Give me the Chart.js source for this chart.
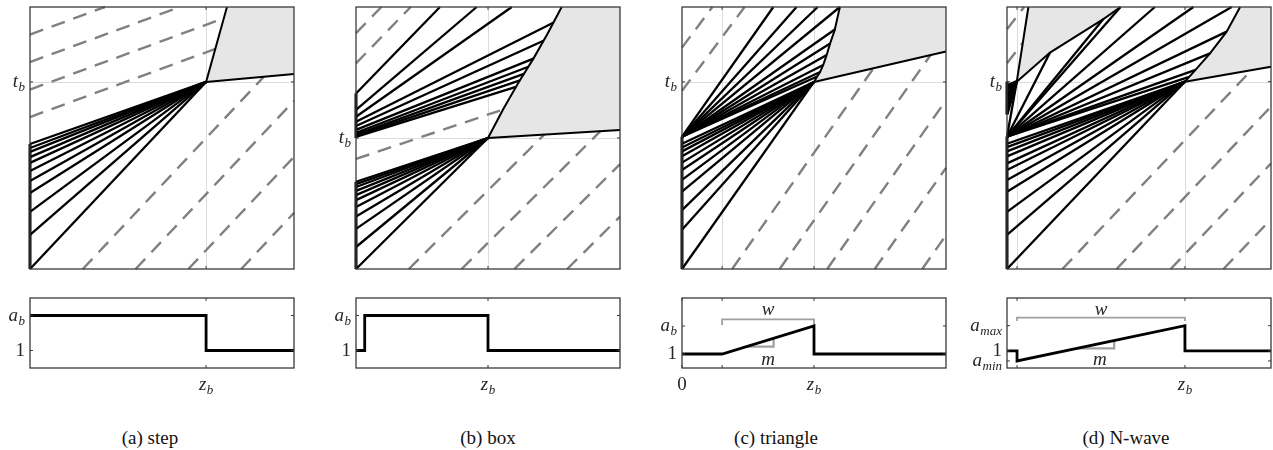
<!DOCTYPE html>
<html>
<head>
<meta charset="utf-8">
<script src="https://cdn.jsdelivr.net/npm/chart.js@4.4.1/dist/chart.umd.min.js"></script>
<style>
  body { margin: 0; background: #fff; width: 1273px; height: 450px; overflow: hidden; position: relative; }
  canvas { position: absolute; }
  .cap { position: absolute; top: 427px; font: 19px "Liberation Serif", serif; color: #111; transform: translateX(-50%); white-space: nowrap; }
</style>
</head>
<body>
<canvas id="topA" width="320" height="280"></canvas>
<canvas id="topB" width="320" height="280"></canvas>
<canvas id="topC" width="320" height="280"></canvas>
<canvas id="topD" width="320" height="280"></canvas>
<canvas id="botA" width="320" height="115"></canvas>
<canvas id="botB" width="320" height="115"></canvas>
<canvas id="botC" width="320" height="115"></canvas>
<canvas id="botD" width="320" height="115"></canvas>
<div class="cap" style="left:150px">(a) step</div>
<div class="cap" style="left:488px">(b) box</div>
<div class="cap" style="left:776px">(c) triangle</div>
<div class="cap" style="left:1126px">(d) N-wave</div>
<script>

// (a) step
const stepFocus = [0.667, 0.714];
const stepFanStarts = [0, 0.13, 0.218, 0.29, 0.336, 0.374, 0.405, 0.427, 0.447, 0.462, 0.477];
const stepWalls = [[[0, 0], [0, 0.477]]];
const stepShocks = [
    [[0.667, 0.714], [0.746, 1]],
    [[0.667, 0.714], [1, 0.744]]
];
const stepShade = [[[0.667, 0.714], [0.746, 1], [1, 1], [1, 0.744]]];
const stepDashed = [
    [[0, 0.58], [0.702, 0.84]], [[0, 0.685], [0.734, 0.957]], [[0, 0.79], [0.568, 1]], [[0, 0.895], [0.284, 1]],
    [[0.2, 0], [0.886, 0.734]], [[0.4, 0], [1, 0.642]], [[0.6, 0], [1, 0.428]], [[0.8, 0], [1, 0.214]]
];

// (b) box
const boxFocus = [0.5, 0.5];
const boxFanStarts = [0, 0.084, 0.153, 0.2, 0.237, 0.263, 0.282, 0.298, 0.313, 0.324, 0.333];
const boxUpperStarts = [0.67, 0.607, 0.581, 0.562, 0.546, 0.531, 0.52, 0.513, 0.508, 0.504];
const boxUpperEnds = [[0.318, 1], [0.457, 1], [0.59, 1], [0.747, 0.94], [0.71, 0.871], [0.672, 0.803], [0.653, 0.772], [0.636, 0.745], [0.621, 0.72], [0.606, 0.695]];
const boxWalls = [[[0, 0], [0, 0.333]], [[0, 0.5], [0, 0.67]]];
const boxCurve = [[0.5, 0.5], [0.558, 0.611], [0.615, 0.711], [0.672, 0.803], [0.726, 0.899], [0.779, 1]];
const boxShocks = [boxCurve, [[0.5, 0.5], [1, 0.531]]];
const boxShade = [boxCurve.concat([[1, 1], [1, 0.531]])];
const boxDashed = [
    [[0, 0.42], [0.555, 0.608]], [[0, 0.785], [0.207, 1]], [[0, 0.9], [0.096, 1]],
    [[0.2, 0], [0.713, 0.513]], [[0.4, 0], [0.926, 0.526]], [[0.6, 0], [1, 0.4]], [[0.8, 0], [1, 0.2]]
];

// (c) triangle
const triFocus = [0.5, 0.714];
const triFanStarts = [0, 0.15, 0.225, 0.295, 0.34, 0.378, 0.406, 0.43, 0.449, 0.464, 0.478];
const triUpperStarts = [0.505];
const triUpperEnds = [[0.346, 1], [0.434, 1], [0.514, 1], [0.598, 1], [0.58, 0.915], [0.561, 0.861], [0.548, 0.817], [0.535, 0.779], [0.523, 0.752], [0.512, 0.735]];
const triWalls = [[[0, 0], [0, 0.505]]];
const triCurve = [[0.5, 0.714], [0.512, 0.735], [0.523, 0.752], [0.535, 0.779], [0.548, 0.817], [0.561, 0.861], [0.578, 0.91], [0.598, 1]];
const triShocks = [triCurve, [[0.5, 0.714], [1, 0.83]]];
const triShade = [triCurve.concat([[1, 1], [1, 0.83]])];
const triDashed = [
    [[0, 0.68], [0.237, 1]], [[0, 0.845], [0.115, 1]],
    [[0.19, 0], [0.726, 0.767]], [[0.37, 0], [0.941, 0.816]], [[0.55, 0], [1, 0.644]], [[0.73, 0], [1, 0.386]], [[0.91, 0], [1, 0.129]]
];

// (d) N-wave
const nFocus = [0.674, 0.715];
const nFanStarts = [0, 0.13, 0.218, 0.295, 0.34, 0.378, 0.403, 0.43, 0.449, 0.465, 0.478];
const nUpperStarts = [0.505];
const nUpperEnds = [[0.037, 0.715], [0.163, 0.826], [0.365, 0.954], [0.43, 1], [0.56, 1], [0.706, 1], [0.851, 1], [0.832, 0.906], [0.769, 0.823], [0.714, 0.76], [0.69, 0.733]];
const nWedgeStarts = [0.59, 0.62, 0.645, 0.665, 0.685, 0.7];
const nWedgeFocus = [0.036, 0.715];
const nWalls = [[[0, 0], [0, 0.505]], [[0, 0.59], [0, 0.715]]];
const nLeftCurve = [[0.037, 0.715], [0.163, 0.826], [0.365, 0.954], [0.43, 1]];
const nRightCurve = [[0.674, 0.715], [0.714, 0.76], [0.769, 0.823], [0.832, 0.906], [0.883, 1]];
const nShocks = [nLeftCurve, [[0.037, 0.715], [0.081, 1]], nRightCurve, [[0.674, 0.715], [1, 0.772]]];
const nShade = [
    [[0.037, 0.715], [0.081, 1], [0.43, 1], [0.365, 0.954], [0.163, 0.826]],
    nRightCurve.concat([[1, 1], [1, 0.772]])
];
const nDashed = [
    [[0, 0.785], [0.06, 0.864]], [[0, 0.915], [0.065, 1]],
    [[0.21, 0], [0.926, 0.759]], [[0.415, 0], [1, 0.62]], [[0.62, 0], [1, 0.403]], [[0.82, 0], [1, 0.19]]
];

// lower plots: a(z)
const stepProfile = [[0, 2], [0.667, 2], [0.667, 1], [1, 1]];
const boxProfile = [[0, 1], [0.033, 1], [0.033, 2], [0.5, 2], [0.5, 1], [1, 1]];
const triProfile = [[0, 1], [0.152, 1], [0.5, 2], [0.5, 1], [1, 1]];
const nProfile = [[0, 1], [0.038, 1], [0.038, 0.6], [0.674, 2], [0.674, 1], [1, 1]];
const triBracket = [[0.152, 2.04], [0.152, 2.24], [0.5, 2.24], [0.5, 2.04]];
const triSlope = [[0.242, 1.26], [0.347, 1.26], [0.347, 1.56]];
const nBracket = [[0.038, 2.19], [0.038, 2.32], [0.674, 2.32], [0.674, 2.19]];
const nSlope = [[0.265, 1.1], [0.406, 1.1], [0.406, 1.41]];

// ticks and labels
const tbLabel = { b: 't', s: 'b' };
const zbLabel = { b: 'z', s: 'b' };
const abLabel = { b: 'a', s: 'b' };
const oneLabel = { b: '1', up: true };

const panelLeft = [30, 356, 682, 1007];
const INK = '#000';
const DASH = '#808080';

const decor = {
    id: 'decor',
    beforeDatasetsDraw(chart, args, o) {
        const { ctx, chartArea: a, scales: { x, y } } = chart;
        ctx.save();
        ctx.strokeStyle = '#dcdcdc';
        ctx.lineWidth = 1;
        (o.gridX || []).forEach(v => {
            const px = Math.round(x.getPixelForValue(v)) + 0.5;
            ctx.beginPath(); ctx.moveTo(px, a.top); ctx.lineTo(px, a.bottom); ctx.stroke();
        });
        (o.gridY || []).forEach(v => {
            const py = Math.round(y.getPixelForValue(v)) + 0.5;
            ctx.beginPath(); ctx.moveTo(a.left, py); ctx.lineTo(a.right, py); ctx.stroke();
        });
        ctx.restore();
    },
    afterDatasetsDraw(chart, args, o) {
        const { ctx, chartArea: a, scales: { x, y } } = chart;
        ctx.save();
        ctx.strokeStyle = '#3a3a3a';
        ctx.lineWidth = 1.3;
        ctx.strokeRect(a.left, a.top, a.right - a.left, a.bottom - a.top);
        ctx.lineWidth = 1;
        (o.ticksX || []).forEach(v => {
            const px = x.getPixelForValue(v);
            ctx.beginPath();
            ctx.moveTo(px, a.bottom); ctx.lineTo(px, a.bottom - 3);
            ctx.moveTo(px, a.top); ctx.lineTo(px, a.top + 3);
            ctx.stroke();
        });
        (o.ticksY || []).forEach(v => {
            const py = y.getPixelForValue(v);
            ctx.beginPath();
            ctx.moveTo(a.left, py); ctx.lineTo(a.left + 3, py);
            ctx.moveTo(a.right, py); ctx.lineTo(a.right - 3, py);
            ctx.stroke();
        });
        (o.labelsY || []).forEach(l => mathText(ctx, l, a.left - 5, y.getPixelForValue(l.v) + 5, 'right'));
        (o.labelsX || []).forEach(l => mathText(ctx, l, x.getPixelForValue(l.v), a.bottom + 22, 'center'));
        (o.notes || []).forEach(l => mathText(ctx, l, x.getPixelForValue(l.x), y.getPixelForValue(l.y) + 5, 'center'));
        ctx.restore();
    }
};

function mathText(ctx, lab, x, y, align) {
    const base = (lab.up ? '' : 'italic ') + '19px "Liberation Serif"';
    const sub = 'italic 13px "Liberation Serif"';
    ctx.font = base;
    const w1 = ctx.measureText(lab.b).width;
    ctx.font = sub;
    const w2 = lab.s ? ctx.measureText(lab.s).width + 0.5 : 0;
    let x0 = x;
    if (align === 'right') x0 = x - w1 - w2;
    if (align === 'center') x0 = x - (w1 + w2) / 2;
    ctx.fillStyle = '#262626';
    ctx.textBaseline = 'alphabetic';
    ctx.textAlign = 'left';
    ctx.font = base;
    ctx.fillText(lab.b, x0, y);
    if (lab.s) {
        ctx.font = sub;
        ctx.fillText(lab.s, x0 + w1 + 0.5, y + 4);
    }
}

function line(pts, color, width, dash, order) {
    return {
        data: pts.map(p => ({ x: p[0], y: p[1] })),
        showLine: true, pointRadius: 0, fill: false, clip: false,
        borderColor: color, borderWidth: width, borderDash: dash || [],
        order: order || 0
    };
}

function shade(pts) {
    return {
        data: pts.map(p => ({ x: p[0], y: p[1] })),
        showLine: true, pointRadius: 0, fill: 'shape', clip: false,
        borderWidth: 0, borderColor: 'rgba(0,0,0,0)', backgroundColor: '#e6e6e6',
        order: 5
    };
}

function topSets(focus, fanStarts, upperStarts, upperEnds, walls, shocks, shades, dashed) {
    const ds = [];
    shades.forEach(s => ds.push(shade(s)));
    dashed.forEach(s => ds.push(line(s, DASH, 2.4, [14, 9], 2)));
    fanStarts.forEach(t => ds.push(line([[0, t], focus], INK, 2.3)));
    upperEnds.forEach((e, i) => {
        const t0 = upperStarts[Math.min(i, upperStarts.length - 1)];
        ds.push(line([[0, t0], e], INK, 2.3));
    });
    walls.forEach(s => ds.push(line(s, INK, 3)));
    shocks.forEach(s => ds.push(line(s, INK, 2)));
    return ds;
}

function makeChart(id, left, top, pad, yRange, datasets, decorOpts) {
    const el = document.getElementById(id);
    el.style.left = (left - 50) + 'px';
    el.style.top = top + 'px';
    return new Chart(el, {
        type: 'scatter',
        data: { datasets },
        options: {
            responsive: false,
            animation: false,
            events: [],
            layout: { padding: pad },
            scales: {
                x: { type: 'linear', min: 0, max: 1, display: false },
                y: { type: 'linear', min: yRange[0], max: yRange[1], display: false }
            },
            plugins: {
                legend: { display: false },
                tooltip: { enabled: false },
                decor: decorOpts
            }
        },
        plugins: [decor]
    });
}

const topPad = { left: 50, right: 6, top: 7, bottom: 11 };
const botPad = { left: 50, right: 6, top: 13, bottom: 32 };

// top row
makeChart('topA', panelLeft[0], 0, topPad, [0, 1],
    topSets(stepFocus, stepFanStarts, [], [], stepWalls, stepShocks, stepShade, stepDashed),
    { gridX: [0.667], gridY: [0.714], ticksX: [0.667], ticksY: [0.714], labelsY: [Object.assign({ v: 0.714 }, tbLabel)] });

makeChart('topB', panelLeft[1], 0, topPad, [0, 1],
    topSets(boxFocus, boxFanStarts, boxUpperStarts, boxUpperEnds, boxWalls, boxShocks, boxShade, boxDashed),
    { gridX: [0.5], gridY: [0.5], ticksX: [0.5], ticksY: [0.5], labelsY: [Object.assign({ v: 0.5 }, tbLabel)] });

const nWedge = nWedgeStarts.map(t => [[0, t], nWedgeFocus]);
makeChart('topC', panelLeft[2], 0, topPad, [0, 1],
    topSets(triFocus, triFanStarts, triUpperStarts, triUpperEnds, triWalls, triShocks, triShade, triDashed),
    { gridX: [0.152, 0.5], gridY: [0.714], ticksX: [0.152, 0.5], ticksY: [0.714], labelsY: [Object.assign({ v: 0.714 }, tbLabel)] });

makeChart('topD', panelLeft[3], 0, topPad, [0, 1],
    topSets(nFocus, nFanStarts, nUpperStarts, nUpperEnds, nWalls.concat(nWedge), nShocks, nShade, nDashed),
    { gridX: [0.038, 0.674], gridY: [0.715], ticksX: [0.038, 0.674], ticksY: [0.715], labelsY: [Object.assign({ v: 0.715 }, tbLabel)] });

// bottom row
makeChart('botA', panelLeft[0], 285, botPad, [0.5, 2.5],
    [line(stepProfile, INK, 2.8)],
    { ticksX: [0.667], ticksY: [1, 2], labelsX: [Object.assign({ v: 0.667 }, zbLabel)],
      labelsY: [Object.assign({ v: 2 }, abLabel), Object.assign({ v: 1 }, oneLabel)] });

makeChart('botB', panelLeft[1], 285, botPad, [0.5, 2.5],
    [line(boxProfile, INK, 2.8)],
    { ticksX: [0.5], ticksY: [1, 2], labelsX: [Object.assign({ v: 0.5 }, zbLabel)],
      labelsY: [Object.assign({ v: 2 }, abLabel), Object.assign({ v: 1 }, oneLabel)] });

makeChart('botC', panelLeft[2], 285, botPad, [0.5, 3.0],
    [line(triBracket, '#a0a0a0', 1.8, [], 1), line(triSlope, '#a0a0a0', 2.2, [], 1), line(triProfile, INK, 2.8)],
    { ticksX: [0, 0.152, 0.5], ticksY: [1, 2],
      labelsX: [{ v: 0, b: '0', up: true }, Object.assign({ v: 0.5 }, zbLabel)],
      labelsY: [Object.assign({ v: 2 }, abLabel), Object.assign({ v: 1 }, oneLabel)],
      notes: [{ x: 0.326, y: 2.57, b: 'w' }, { x: 0.326, y: 0.79, b: 'm' }] });

makeChart('botD', panelLeft[3], 285, botPad, [0.32, 3.1],
    [line(nBracket, '#a0a0a0', 1.8, [], 1), line(nSlope, '#a0a0a0', 2.2, [], 1), line(nProfile, INK, 2.8)],
    { ticksX: [0.038, 0.674], ticksY: [0.6, 1, 2],
      labelsX: [Object.assign({ v: 0.674 }, zbLabel)],
      labelsY: [{ v: 2, b: 'a', s: 'max' }, Object.assign({ v: 1 }, oneLabel), { v: 0.6, b: 'a', s: 'min' }],
      notes: [{ x: 0.356, y: 2.62, b: 'w' }, { x: 0.352, y: 0.64, b: 'm' }] });
</script>
</body>
</html>
